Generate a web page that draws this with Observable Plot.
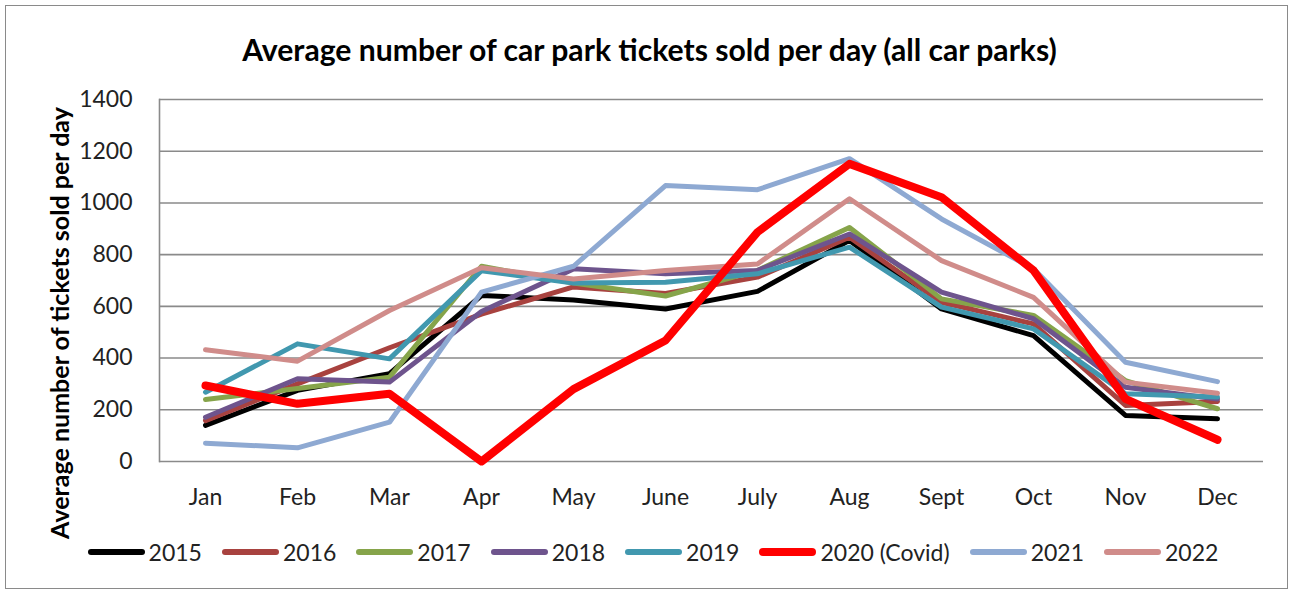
<!DOCTYPE html>
<html><head><meta charset="utf-8">
<script src="https://cdn.jsdelivr.net/npm/d3@7"></script>
<script src="https://cdn.jsdelivr.net/npm/@observablehq/plot@0.6"></script>
<style>
body{margin:0;background:#fff;font-family:Lato,"Liberation Sans",sans-serif;width:1293px;height:594px;overflow:hidden;position:relative;}
#frame{position:absolute;left:5px;top:5px;width:1281px;height:582px;border:1.5px solid #8a8a8a;}
#title{position:absolute;left:0;width:1299px;top:33px;text-align:center;font-weight:bold;font-size:25px;color:#000;white-space:nowrap;line-height:32px;}
#ylab{position:absolute;left:59px;top:323px;transform:translate(-50%,-50%) rotate(-90deg);font-weight:bold;font-size:21px;color:#000;white-space:nowrap;line-height:24px;}
#chart{position:absolute;left:0;top:80px;}
#legend{position:absolute;left:0;width:1306px;top:538px;display:flex;justify-content:center;align-items:center;font-size:23px;color:#222;line-height:28px;}
.item{display:flex;align-items:center;margin:0 10px;}
.sw{width:57px;border-radius:4px;margin-right:4px;}
</style>
</head><body>
<div id="frame"></div>
<div id="title">Average number of car park tickets sold per day (all car parks)</div>
<div id="ylab">Average number of tickets sold per day</div>
<div id="chart"></div>
<div id="legend"></div>
<script>
const months = ["Jan","Feb","Mar","Apr","May","June","July","Aug","Sept","Oct","Nov","Dec"];
const series = ["2015","2016","2017","2018","2019","2021","2022","2020 (Covid)"];
const colors = ["#000000","#A8423F","#86A44A","#6E548D","#4198AF","#8EA9D2","#D08C8A","#FF0000"];
const legendOrder = ["2015","2016","2017","2018","2019","2020 (Covid)","2021","2022"];
const yTicks = [0,200,400,600,800,1000,1200,1400];

const v2015 = [140,275,340,642,625,590,658,855,590,487,178,165];
const v2016 = [158,300,440,570,675,650,713,867,616,532,217,232];
const v2017 = [240,282,326,755,690,640,739,905,629,565,313,204];
const v2018 = [171,320,307,580,745,726,739,880,655,552,287,242];
const v2019 = [268,455,397,738,690,693,726,829,597,513,262,249];
const v2020 = [294,223,262,0,280,468,887,1151,1022,739,242,84];
const v2021 = [71,53,152,655,755,1067,1051,1171,938,745,384,309];
const v2022 = [432,388,584,749,706,739,764,1016,777,635,307,264];

const valuesBySeries = {"2015":v2015,"2016":v2016,"2017":v2017,"2018":v2018,"2019":v2019,"2020 (Covid)":v2020,"2021":v2021,"2022":v2022};
const data = series.flatMap(s => valuesBySeries[s].map((v,i)=>({series:s, month:months[i], value:v})));

const plot = Plot.plot({
  width:1293, height:440,
  marginTop:19, marginBottom:59, marginLeft:159, marginRight:30,
  style:{fontFamily:"Lato, 'Liberation Sans', sans-serif", background:"transparent"},
  x:{type:"point", domain:months, padding:0.5},
  y:{domain:[0,1400]},
  color:{domain:series, range:colors},
  marks:[
    Plot.gridY(yTicks,{stroke:"#8a8a8a", strokeOpacity:1, strokeWidth:1.6}),
    Plot.frame({anchor:"left", stroke:"#8a8a8a", strokeWidth:1.6}),
    Plot.axisY(yTicks,{tickSize:0, tickPadding:27, fontSize:23, fill:"#222", label:null, tickFormat:d=>String(d)}),
    Plot.axisX(months,{tickSize:0, tickPadding:27, fontSize:23, fill:"#222", label:null}),
    Plot.line(data,{x:"month", y:"value", z:"series", stroke:"series",
      strokeWidth:d=>d.series==="2020 (Covid)"?8:5, strokeLinejoin:"round", strokeLinecap:"round"})
  ]
});
document.getElementById("chart").appendChild(plot);

const leg = document.getElementById("legend");
legendOrder.forEach(s=>{
  const it=document.createElement("div"); it.className="item";
  const sw=document.createElement("div"); sw.className="sw";
  sw.style.background=colors[series.indexOf(s)];
  sw.style.height = s==="2020 (Covid)"?"8px":"6px";
  const t=document.createElement("span"); t.textContent=s;
  it.appendChild(sw); it.appendChild(t); leg.appendChild(it);
});

// fit title text to its reference extent
(function(){
  const el=document.getElementById("title");
  const span=document.createElement("span"); span.textContent=el.textContent; el.textContent=""; el.appendChild(span);
  const fs=parseFloat(getComputedStyle(el).fontSize);
  el.style.fontSize=(fs*815/span.getBoundingClientRect().width)+"px";
})();
(function(){
  const el=document.getElementById("ylab");
  const fs=parseFloat(getComputedStyle(el).fontSize);
  const h=el.getBoundingClientRect().height;
  el.style.fontSize=(fs*432/h)+"px";
})();
</script>
</body></html>
